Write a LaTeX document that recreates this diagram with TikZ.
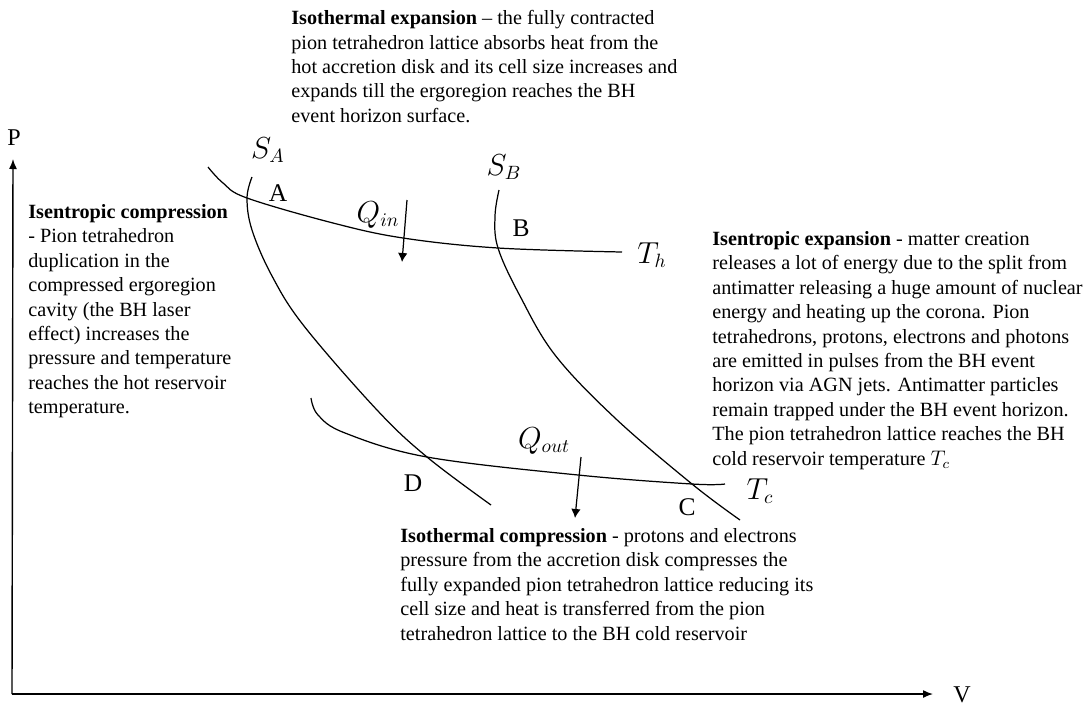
\documentclass[tikz,border=0pt]{standalone}
\usepackage{amsmath}
\usepackage{fontspec}
\setmainfont{Liberation Serif}
\usepackage{tikz}
\usetikzlibrary{arrows.meta}

\begin{document}
\begin{tikzpicture}[x=0.02cm, y=-0.02cm,
    desc/.style={anchor=north west, inner sep=0pt, align=left,
                 font=\fontsize{11.5}{13.9}\selectfont},
    lbl/.style={inner sep=0pt, font=\fontsize{14.5}{16}\selectfont},
    sym/.style={inner sep=0pt, font=\fontsize{16}{18}\selectfont},
    curve/.style={line width=0.7pt},
    heat/.style={line width=0.7pt, -{Latex[length=1.8mm, width=1.9mm]}},
    axis/.style={line width=0.8pt, -{Latex[length=2mm, width=1.6mm]}}]
\useasboundingbox (0,0) rectangle (1092,707);

% corner points of the cycle
\coordinate (A) at (247,198);
\coordinate (B) at (498,248);
\coordinate (C) at (692,484);
\coordinate (D) at (427,457);

% isotherms and adiabats
\draw[curve] plot[smooth, tension=0.6] coordinates
  {(208,167) (223,183) (A) (333,223) (403,238) (B) (622,252)};
\draw[curve] plot[smooth, tension=0.6] coordinates
  {(311,398) (318,415) (345,433) (D) (578,475) (C) (725,484)};
\draw[curve] plot[smooth, tension=0.6] coordinates
  {(252,177) (A) (252,230) (272,276) (304,326) (377,410) (D) (491,505)};
\draw[curve] plot[smooth, tension=0.6] coordinates
  {(499,190) (495,216) (B) (520,296) (555,355) (615,418) (C) (740,520)};

% axes
\coordinate (O) at (12,694);
\coordinate (ptop) at (13,159);
\coordinate (vend) at (933,694);
\draw[axis] (O) -- (ptop);
\draw[axis] (O) -- (vend);
\node[lbl, font=\fontsize{13.7}{16}\selectfont] (plabel) at (14,138) {P};
\node[lbl, font=\fontsize{13.7}{16}\selectfont] (vlabel) at (962,695) {V};

% state labels
\node[lbl] (la) at (278,193) {A};
\node[lbl] (lb) at (521,228) {B};
\node[lbl] (lc) at (687,507) {C};
\node[lbl] (ld) at (413,483) {D};
\node[sym] (sa) at (268,150) {$S_A$};
\node[sym] (sb) at (504,167) {$S_B$};
\node[sym] (th) at (652,255) {$T_h$};
\node[sym] (tc) at (760,491) {$T_c$};
\node[sym] (qin) at (378,215) {$Q_{in}$};
\node[sym] (qout) at (544,441) {$Q_{out}$};

% heat flows
\coordinate (qintop) at (407,200);
\coordinate (qinend) at (402,262);
\coordinate (qouttop) at (581,457);
\coordinate (qoutend) at (575,518);
\draw[heat] (qintop) -- (qinend);
\draw[heat] (qouttop) -- (qoutend);

% descriptions
\node[desc] (isoexp) at (291,10)
{\textbf{Isothermal expansion} -- the fully contracted\\
 pion tetrahedron lattice absorbs heat from the\\
 hot accretion disk and its cell size increases and\\
 expands till the ergoregion reaches the BH\\
 event horizon surface.};
\node[desc] (isencomp) at (28,204)
{\textbf{Isentropic compression}\\
 - Pion tetrahedron\\
 duplication in the\\
 compressed ergoregion\\
 cavity (the BH laser\\
 effect) increases the\\
 pressure and temperature\\
 reaches the hot reservoir\\
 temperature.};
\node[desc] (isenexp) at (712,231)
{\textbf{Isentropic expansion} - matter creation\\
 releases a lot of energy due to the split from\\
 antimatter releasing a huge amount of nuclear\\
 energy and heating up the corona. Pion\\
 tetrahedrons, protons, electrons and photons\\
 are emitted in pulses from the BH event\\
 horizon via AGN jets. Antimatter particles\\
 remain trapped under the BH event horizon.\\
 The pion tetrahedron lattice reaches the BH\\
 cold reservoir temperature $T_c$};
\node[desc] (isocomp) at (400,528)
{\textbf{Isothermal compression} - protons and electrons\\
 pressure from the accretion disk compresses the\\
 fully expanded pion tetrahedron lattice reducing its\\
 cell size and heat is transferred from the pion\\
 tetrahedron lattice to the BH cold reservoir};
\end{tikzpicture}
\end{document}
